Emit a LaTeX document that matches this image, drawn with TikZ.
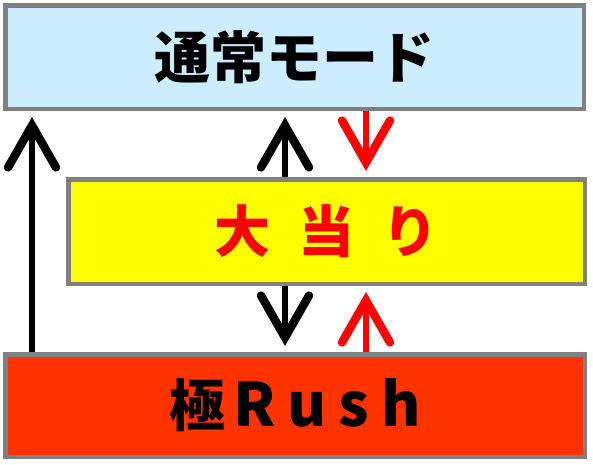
\documentclass[tikz,border=0pt]{standalone}
\usepackage{fontspec}
\usetikzlibrary{arrows.meta}
\newfontfamily\jpfont{Noto Sans CJK JP}
\definecolor{modeblue}{RGB}{204,236,255}
\definecolor{hityellow}{RGB}{255,255,0}
\definecolor{rushred}{RGB}{255,51,0}
\definecolor{edgegray}{RGB}{128,128,128}
\tikzset{
  box/.style={draw=edgegray, line width=4.5pt, inner sep=0pt},
  flow/.style={line width=6pt, shorten >=6pt,
    -{Straight Barb[length=42pt,width=48pt,line width=0pt 1.4,line cap=round,line join=miter]}},
}

\begin{document}
\begin{tikzpicture} [x=1pt,y=-1pt]%modes
\useasboundingbox (0,0) rectangle (593,464);

\node [box, fill=modeblue, minimum width=578.5pt, minimum height=103.5pt] (mode) at (294.5,57)
  {\jpfont\bfseries\fontsize{56}{60}\selectfont 通常モード};
\node [box, fill=hityellow, minimum width=516.5pt, minimum height=104.5pt] (hit) at (326.5,231.5)
  {\jpfont\bfseries\fontsize{56}{60}\selectfont\color{red}\spaceskip=0.5em 大 当 り};
\node [box, fill=rushred, minimum width=579.5pt, minimum height=102.5pt] (rush) at (295,405.5)
  {\jpfont\bfseries\fontsize{56}{60}\selectfont 極\hspace{8pt}{\fontsize{60}{66}\selectfont\addfontfeature{LetterSpace=20}Rush}};

\coordinate (left) at (32,0);
\coordinate (mid) at (285,0);
\coordinate (right) at (366,0);

\draw [flow] (rush.north -| left) -- (mode.south -| left);
\draw [flow] (hit.north -| mid) -- (mode.south -| mid);
\draw [flow, red] (mode.south -| right) -- (hit.north -| right);
\draw [flow] (hit.south -| mid) -- (rush.north -| mid);
\draw [flow, red] (rush.north -| right) -- (hit.south -| right);
\end{tikzpicture}
\end{document}
